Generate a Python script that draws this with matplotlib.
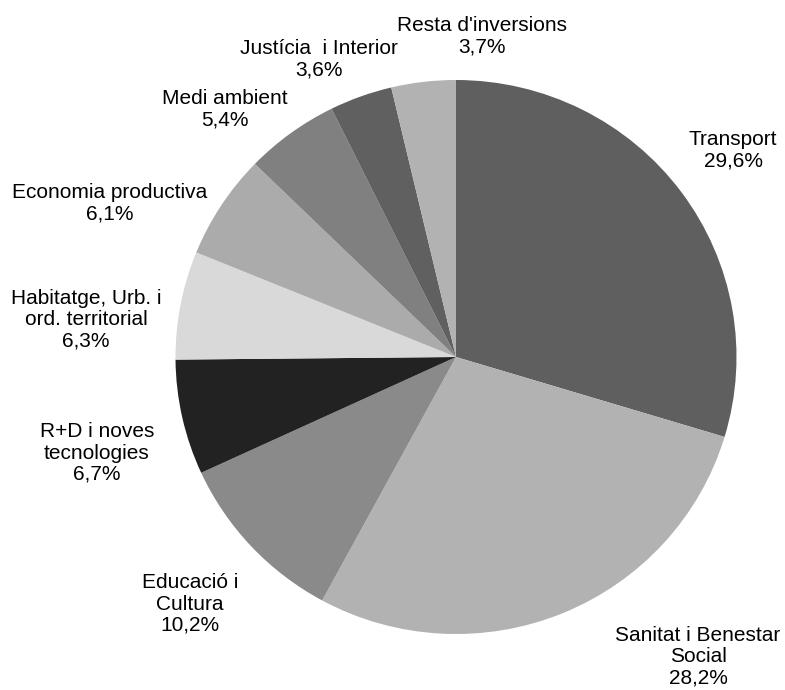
import matplotlib.pyplot as plt

# Distribució de les inversions per àmbits (%)
categories = ["Transport", "Sanitat i Benestar\nSocial", "Educació i\nCultura",
              "R+D i noves\ntecnologies", "Habitatge, Urb. i\nord. territorial",
              "Economia productiva", "Medi ambient", "Justícia  i Interior",
              "Resta d'inversions"]
values = [29.6, 28.2, 10.2, 6.7, 6.3, 6.1, 5.4, 3.6, 3.7]
greys = ["#5f5f5f", "#b2b2b2", "#8a8a8a", "#222222", "#d9d9d9",
         "#ababab", "#808080", "#606060", "#b2b2b2"]

# where each label sits, in pie-radius units
label_pos = [(0.988, 0.747), (0.863, -1.083), (-0.948, -0.892),
             (-1.280, -0.347), (-1.319, 0.134), (-1.234, 0.556),
             (-0.824, 0.895), (-0.488, 1.076), (0.093, 1.159)]

plt.rcParams['font.family'] = ['Liberation Sans', 'DejaVu Sans']

fig = plt.figure(figsize=(7.85, 6.9), dpi=100)
ax = fig.add_axes([0, 0, 1, 1])

wedges, _ = ax.pie(values, colors=greys, startangle=90, counterclock=False,
                   wedgeprops=dict(linewidth=0))

for name, v, (x, y) in zip(categories, values, label_pos):
    txt = name + "\n" + f"{v:.1f}".replace(".", ",") + "%"
    ax.text(x, y, txt, ha='center', va='center', fontsize=15,
            linespacing=1.15, color='black')

ax.set_aspect('auto')
ax.set_xlim(-456 / 280.5, 329 / 280.5)
ax.set_ylim(-333 / 277, 357 / 277)
ax.axis('off')

fig.savefig("out.png", dpi=100)
